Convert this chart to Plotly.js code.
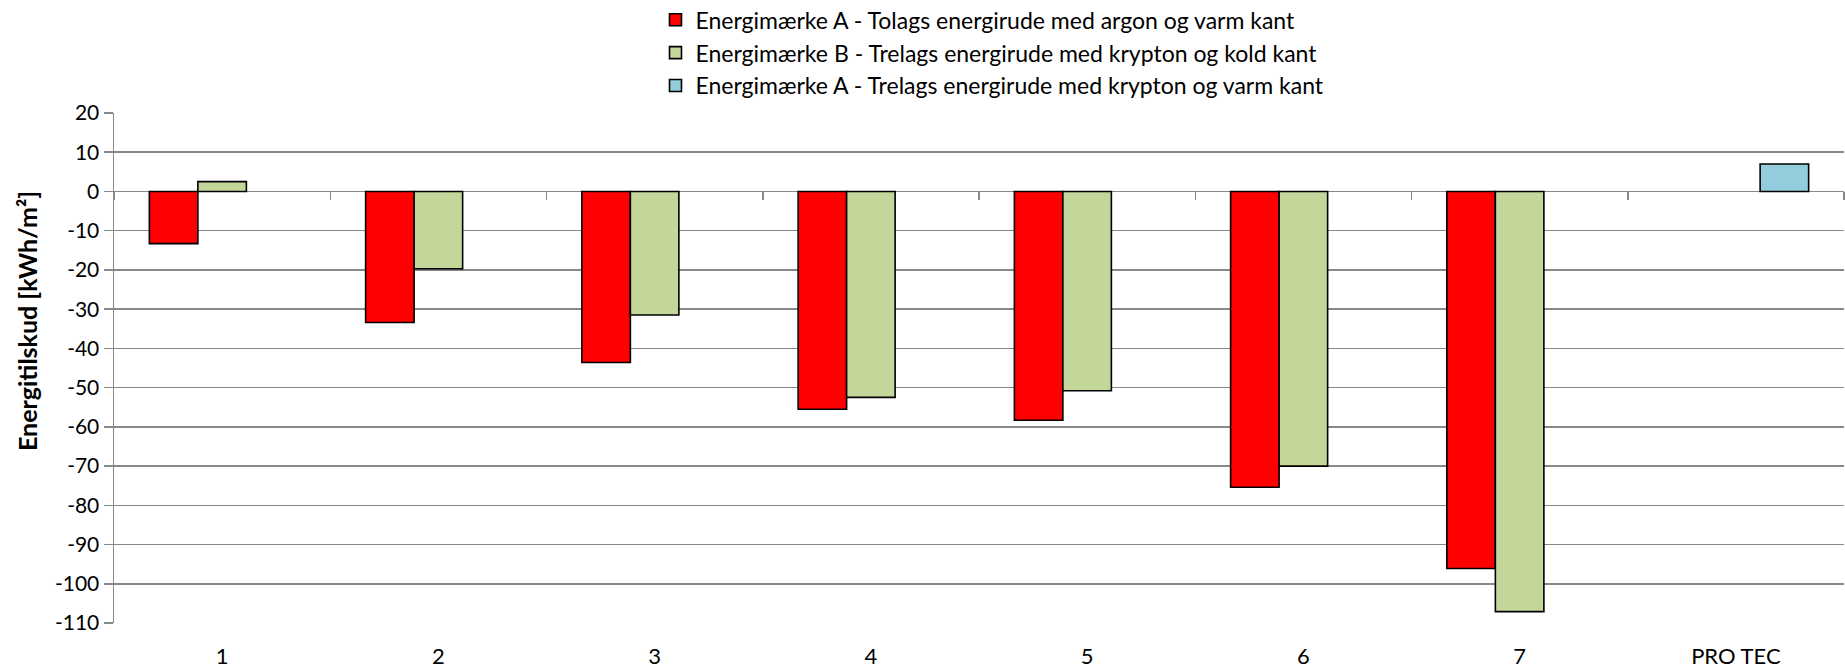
<!DOCTYPE html>
<html>
<head>
<meta charset="utf-8">
<script src="https://cdn.plot.ly/plotly-3.0.1.min.js"></script>
<style>html,body{margin:0;padding:0;background:#fff;}#chart{width:1845px;height:671px;}</style>
</head>
<body>
<div id="chart"></div>
<script>
const categories = ["1", "2", "3", "4", "5", "6", "7", "PRO TEC"];
const seriesNames = [
  "Energimærke A - Tolags energirude med argon og varm kant",
  "Energimærke B - Trelags energirude med krypton og kold kant",
  "Energimærke A - Trelags energirude med krypton og varm kant"
];
const yTitle = "Energitilskud [kWh/m²]";
const redValues   = [-13.3, -33.4, -43.6, -55.5, -58.3, -75.4, -96.1, null];
const greenValues = [2.5, -19.7, -31.5, -52.5, -50.8, -70.0, -107.1, null];
const blueValues  = [null, null, null, null, null, null, null, 7.0];
const yTickVals = [20, 10, 0, -10, -20, -30, -40, -50, -60, -70, -80, -90, -100, -110];

const FONT = "Lato, 'Open Sans', sans-serif";
const GRID = "#888888";

function barTrace(name, vals, color, grp) {
  return {
    type: "bar", name: name, x: categories, y: vals,
    legendgroup: grp,
    marker: {color: color, line: {color: "#000000", width: 1.6}},
    hoverinfo: "x+y"
  };
}

const traces = [
  barTrace(seriesNames[0], redValues, "#FF0000", "a"),
  barTrace(seriesNames[1], greenValues, "#C4D79B", "b"),
  barTrace(seriesNames[2], blueValues, "#93CDDD", "c"),
  {type: "scatter", x: [], y: [], xaxis: "x2", showlegend: false, hoverinfo: "skip"}
];

const boundaryTicks = categories.map((c, i) => i - 0.5).concat([categories.length - 0.5]);

const layout = {
  width: 1845, height: 671,
  paper_bgcolor: "#ffffff", plot_bgcolor: "#ffffff",
  font: {family: FONT, size: 22, color: "#000000"},
  margin: {l: 114, r: 1, t: 113, b: 48, autoexpand: false},
  barmode: "group", bargap: 0.327, bargroupgap: 0,
  showlegend: true,
  legend: {
    x: 0.313, xanchor: "left", y: 1.225, yanchor: "top",
    orientation: "v", traceorder: "normal",
    font: {family: FONT, size: 23, color: "#000000"},
    tracegroupgap: 4, itemwidth: 30, bgcolor: "rgba(0,0,0,0)"
  },
  xaxis: {
    type: "category", range: [-0.5, categories.length - 0.5],
    showgrid: false, zeroline: false, showline: false,
    ticks: "", ticklabelstandoff: 18,
    tickfont: {family: FONT, size: 22, color: "#000000"},
    fixedrange: true
  },
  xaxis2: {
    overlaying: "x", anchor: "free", position: 110 / 130,
    range: [-0.5, categories.length - 0.5],
    tickvals: boundaryTicks, showticklabels: false,
    ticks: "outside", ticklen: 8, tickwidth: 1.5, tickcolor: GRID,
    showgrid: false, zeroline: false, showline: false, fixedrange: true
  },
  yaxis: {
    range: [-110, 20], tickvals: yTickVals, ticktext: yTickVals.map(String),
    showgrid: true, gridcolor: GRID, gridwidth: 1.5,
    zeroline: true, zerolinecolor: GRID, zerolinewidth: 1.6,
    showline: true, linecolor: GRID, linewidth: 1.5,
    ticks: "outside", ticklen: 9, tickwidth: 1.5, tickcolor: GRID,
    tickfont: {family: FONT, size: 21, color: "#000000"},
    automargin: false, fixedrange: true
  },
  annotations: [{
    text: yTitle, xref: "paper", yref: "paper",
    x: (27 - 114) / 1730, y: (623 - 321) / 510,
    xanchor: "center", yanchor: "middle", textangle: -90, showarrow: false,
    font: {family: FONT, size: 25, color: "#000000", weight: "bold"}
  }]
};

Plotly.newPlot("chart", traces, layout, {displayModeBar: false, staticPlot: true});
</script>
</body>
</html>
